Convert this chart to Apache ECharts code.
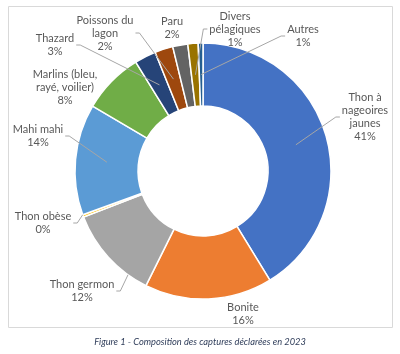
<!DOCTYPE html>
<html>
<head>
<meta charset="utf-8">
<script src="https://cdn.jsdelivr.net/npm/echarts@6/dist/echarts.min.js"></script>
<style>
  html, body { margin: 0; padding: 0; background: #fff; }
  #chart { width: 400px; height: 354px; }
</style>
</head>
<body>
<div id="chart"></div>
<script>
// categories, dans l'ordre des secteurs (sens horaire depuis midi)
var especes = ['Thon à\nnageoires\njaunes', 'Bonite', 'Thon germon', 'Thon obèse', 'Mahi mahi',
  'Marlins (bleu,\nrayé, voilier)', 'Thazard', 'Poissons du\nlagon', 'Paru', 'Divers\npélagiques', 'Autres'];
// part des captures (%)
var parts = [41.25, 16.1, 11.8, 0.3, 14.0, 7.75, 2.7, 2.3, 1.9, 1.3, 0.6];
var couleurs = ['#4472C4', '#ED7D31', '#A5A5A5', '#FFC000', '#5B9BD5', '#70AD47',
  '#264478', '#9E480E', '#636363', '#997300', '#255E91'];

// position (centre) des étiquettes
var posEtiquettes = [[365, 117], [243, 314], [82, 291], [43, 223], [38, 136],
  [65, 87], [55, 45], [105, 33], [172, 28], [235, 29], [303, 36]];
// fin du trait de rappel : 'milieu' de l'anneau, 'bord' extérieur, ou pas de trait
var typeTrait = ['milieu', null, 'bord', 'bord', 'milieu', null, 'milieu', 'milieu', null, 'milieu', 'milieu'];

var POLICE = '11px Lato';
var chart = echarts.init(document.getElementById('chart'));

var data = especes.map(function (nom, i) {
  return { name: nom, value: parts[i], itemStyle: { color: couleurs[i] } };
});

chart.setOption({
  animation: false,
  series: [{
    type: 'pie',
    center: [203, 171],
    radius: [65, 128],
    startAngle: 90,
    avoidLabelOverlap: false,
    percentPrecision: 0,
    itemStyle: { borderColor: '#fff', borderWidth: 1.5 },
    label: {
      show: true,
      formatter: '{b}\n{d}%',
      fontFamily: 'Lato',
      fontSize: 11,
      lineHeight: 13,
      color: '#595959'
    },
    labelLine: { show: false },
    labelLayout: function (p) {
      var pos = posEtiquettes[p.dataIndex];
      return { x: pos[0], y: pos[1], align: 'center', verticalAlign: 'middle' };
    },
    data: data
  }]
});

// largeur d'une étiquette (ligne la plus longue)
var ctx = document.createElement('canvas').getContext('2d');
ctx.font = POLICE;
function largeur(nom) {
  return Math.max.apply(null, (nom + '\n00%').split('\n').map(function (l) {
    return ctx.measureText(l).width;
  }));
}

// géométrie des secteurs calculée par ECharts
var serieData = chart.getModel().getSeriesByIndex(0).getData();
function milieu(idx) {
  var lay = serieData.getItemLayout(idx);
  var a = (lay.startAngle + lay.endAngle) / 2;
  var r = (lay.r + lay.r0) / 2;
  return [lay.cx + r * Math.cos(a), lay.cy + r * Math.sin(a)];
}
// point du bord extérieur le plus proche de l'étiquette
function bord(idx, depuis) {
  var lay = serieData.getItemLayout(idx);
  var ang = Math.atan2(depuis[1] - lay.cy, depuis[0] - lay.cx);
  while (ang < lay.startAngle) ang += 2 * Math.PI;
  ang = Math.min(Math.max(ang, lay.startAngle), lay.endAngle);
  return [lay.cx + lay.r * Math.cos(ang), lay.cy + lay.r * Math.sin(ang)];
}

var traits = [];
especes.forEach(function (nom, i) {
  if (!typeTrait[i]) return;
  var pos = posEtiquettes[i];
  var w = largeur(nom);
  // côté de l'étiquette d'où part le trait
  var sens = milieu(i)[0] > pos[0] + w / 2 ? 1 : -1;
  var debut = [pos[0] + sens * (w / 2 + 2), pos[1]];
  var fin = typeTrait[i] === 'milieu' ? milieu(i) : bord(i, debut);
  traits.push({
    type: 'polyline',
    z: 100,
    shape: { points: [debut, [debut[0] + sens * 4, pos[1]], fin] },
    style: { stroke: '#A6A6A6', lineWidth: 1, fill: null }
  });
});

chart.setOption({
  graphic: [
    {
      type: 'rect',
      shape: { x: 8.5, y: 6.5, width: 384, height: 321 },
      style: { fill: 'none', stroke: '#D9D9D9', lineWidth: 1 }
    },
    {
      type: 'text',
      left: 'center',
      top: 337,
      style: {
        text: 'Figure 1 - Composition des captures déclarées en 2023',
        font: 'italic 9.3px Lato',
        fill: '#2F3D5A'
      }
    }
  ].concat(traits)
});
</script>
</body>
</html>
